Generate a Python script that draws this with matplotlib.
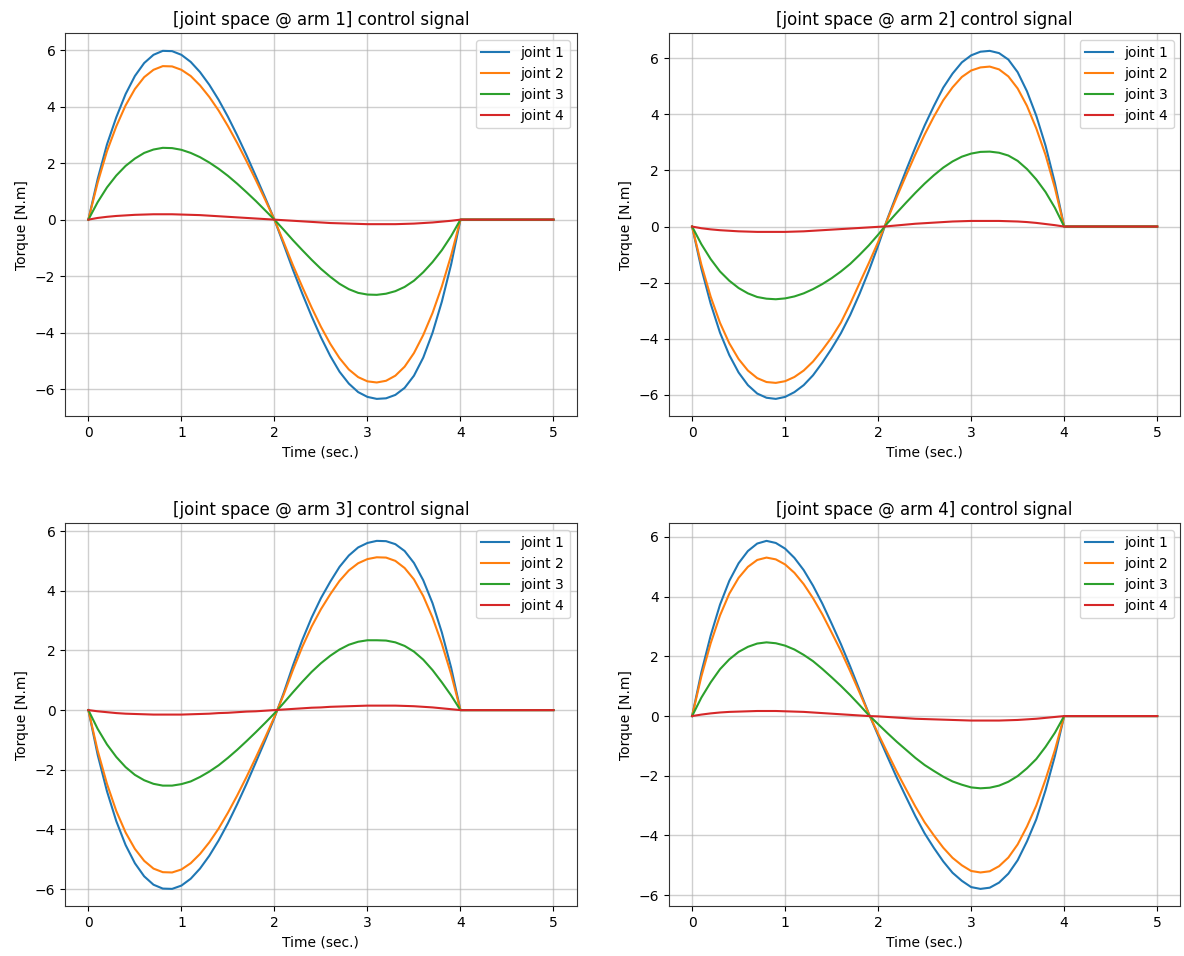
import matplotlib
matplotlib.use("Agg")
import matplotlib.pyplot as plt

# Time samples (sec.)
time = [0.0, 0.1, 0.2, 0.3, 0.4, 0.5, 0.6, 0.7, 0.8, 0.9,
        1.0, 1.1, 1.2, 1.3, 1.4, 1.5, 1.6, 1.7, 1.8, 1.9,
        2.0, 2.1, 2.2, 2.3, 2.4, 2.5, 2.6, 2.7, 2.8, 2.9,
        3.0, 3.1, 3.2, 3.3, 3.4, 3.5, 3.6, 3.7, 3.8, 3.9,
        4.0, 5.0]

joint_names = ["joint 1", "joint 2", "joint 3", "joint 4"]
arm_titles = ["[joint space @ arm 1] control signal",
              "[joint space @ arm 2] control signal",
              "[joint space @ arm 3] control signal",
              "[joint space @ arm 4] control signal"]

# Torque [N.m]
arm1_j1 = [0, 1.44, 2.66, 3.62, 4.44, 5.08, 5.54, 5.83, 5.97, 5.96,
           5.83, 5.58, 5.22, 4.77, 4.24, 3.64, 2.98, 2.28, 1.54, 0.78,
           0, -0.88, -1.78, -2.62, -3.42, -4.16, -4.82, -5.38, -5.8, -6.1,
           -6.27, -6.34, -6.32, -6.2, -5.95, -5.52, -4.88, -4.0, -2.9, -1.58,
           0, 0]
arm1_j2 = [0, 1.31, 2.42, 3.3, 4.04, 4.62, 5.04, 5.3, 5.43, 5.42,
           5.3, 5.08, 4.75, 4.34, 3.86, 3.31, 2.71, 2.07, 1.4, 0.71,
           0, -0.8, -1.62, -2.38, -3.11, -3.79, -4.39, -4.9, -5.3, -5.57,
           -5.72, -5.76, -5.7, -5.52, -5.2, -4.72, -4.08, -3.3, -2.36, -1.26,
           0, 0]
arm1_j3 = [0, 0.62, 1.14, 1.56, 1.9, 2.16, 2.36, 2.48, 2.54, 2.53,
           2.47, 2.36, 2.21, 2.02, 1.8, 1.55, 1.27, 0.97, 0.66, 0.33,
           0, -0.36, -0.73, -1.08, -1.42, -1.74, -2.02, -2.27, -2.46, -2.59,
           -2.65, -2.66, -2.62, -2.53, -2.38, -2.16, -1.86, -1.5, -1.08, -0.58,
           0, 0]
arm1_j4 = [0, 0.06, 0.1, 0.13, 0.15, 0.17, 0.18, 0.19, 0.19, 0.19,
           0.18, 0.17, 0.16, 0.14, 0.12, 0.1, 0.08, 0.06, 0.04, 0.02,
           0, -0.02, -0.04, -0.06, -0.08, -0.1, -0.12, -0.13, -0.14, -0.15,
           -0.16, -0.16, -0.16, -0.16, -0.15, -0.14, -0.12, -0.1, -0.07, -0.04,
           0, 0]

arm2_j1 = [0, -1.5, -2.75, -3.78, -4.58, -5.2, -5.65, -5.95, -6.1, -6.14,
           -6.07, -5.9, -5.65, -5.3, -4.85, -4.35, -3.8, -3.15, -2.4, -1.58,
           -0.68, 0.28, 1.15, 2.0, 2.82, 3.6, 4.3, 4.95, 5.45, 5.85,
           6.1, 6.23, 6.26, 6.18, 5.95, 5.5, 4.82, 3.95, 2.88, 1.56,
           0, 0]
arm2_j2 = [0, -1.36, -2.5, -3.43, -4.16, -4.72, -5.13, -5.4, -5.54, -5.57,
           -5.51, -5.36, -5.13, -4.81, -4.4, -3.95, -3.42, -2.75, -2.02, -1.3,
           -0.55, 0.25, 1.05, 1.82, 2.57, 3.28, 3.92, 4.5, 4.96, 5.33,
           5.56, 5.67, 5.7, 5.6, 5.35, 4.92, 4.3, 3.5, 2.55, 1.38,
           0, 0]
arm2_j3 = [0, -0.63, -1.16, -1.6, -1.93, -2.19, -2.38, -2.51, -2.57, -2.59,
           -2.56, -2.49, -2.38, -2.23, -2.05, -1.84, -1.6, -1.33, -1.01, -0.67,
           -0.29, 0.12, 0.49, 0.85, 1.2, 1.53, 1.83, 2.1, 2.32, 2.49,
           2.6, 2.66, 2.67, 2.63, 2.53, 2.34, 2.05, 1.68, 1.23, 0.67,
           0, 0]
arm2_j4 = [0, -0.06, -0.1, -0.13, -0.15, -0.17, -0.18, -0.19, -0.19, -0.19,
           -0.19, -0.18, -0.17, -0.15, -0.13, -0.11, -0.09, -0.07, -0.05, -0.03,
           -0.01, 0.01, 0.04, 0.07, 0.1, 0.12, 0.14, 0.16, 0.18, 0.19,
           0.2, 0.2, 0.2, 0.2, 0.19, 0.18, 0.16, 0.13, 0.09, 0.05,
           0, 0]

arm3_j1 = [0, -1.5, -2.72, -3.72, -4.52, -5.13, -5.57, -5.85, -5.98, -5.99,
           -5.88, -5.65, -5.31, -4.88, -4.37, -3.79, -3.15, -2.47, -1.75, -1.02,
           -0.26, 0.58, 1.5, 2.35, 3.1, 3.75, 4.3, 4.8, 5.18, 5.45,
           5.6, 5.67, 5.66, 5.56, 5.33, 4.93, 4.35, 3.58, 2.6, 1.42,
           0, 0]
arm3_j2 = [0, -1.36, -2.47, -3.38, -4.1, -4.65, -5.05, -5.31, -5.43, -5.44,
           -5.34, -5.13, -4.82, -4.43, -3.97, -3.44, -2.86, -2.24, -1.59, -0.92,
           -0.23, 0.52, 1.35, 2.12, 2.8, 3.38, 3.88, 4.33, 4.68, 4.92,
           5.06, 5.12, 5.11, 5.0, 4.76, 4.38, 3.82, 3.1, 2.22, 1.2,
           0, 0]
arm3_j3 = [0, -0.63, -1.15, -1.57, -1.91, -2.17, -2.35, -2.47, -2.53, -2.53,
           -2.48, -2.39, -2.24, -2.06, -1.85, -1.6, -1.33, -1.04, -0.74, -0.43,
           -0.11, 0.24, 0.6, 0.95, 1.28, 1.57, 1.82, 2.03, 2.19, 2.29,
           2.34, 2.34, 2.33, 2.27, 2.15, 1.96, 1.69, 1.34, 0.93, 0.49,
           0, 0]
arm3_j4 = [0, -0.04, -0.07, -0.1, -0.12, -0.13, -0.14, -0.15, -0.15, -0.15,
           -0.15, -0.14, -0.13, -0.12, -0.1, -0.09, -0.07, -0.05, -0.04, -0.02,
           0, 0.02, 0.04, 0.06, 0.08, 0.09, 0.11, 0.12, 0.13, 0.14,
           0.15, 0.15, 0.15, 0.15, 0.14, 0.13, 0.11, 0.09, 0.06, 0.03,
           0, 0]

arm4_j1 = [0, 1.47, 2.7, 3.73, 4.53, 5.12, 5.53, 5.78, 5.87, 5.8,
           5.61, 5.3, 4.89, 4.37, 3.77, 3.1, 2.41, 1.66, 0.87, 0.08,
           -0.65, -1.36, -2.06, -2.71, -3.35, -3.93, -4.42, -4.87, -5.25, -5.52,
           -5.73, -5.79, -5.75, -5.58, -5.28, -4.83, -4.2, -3.46, -2.48, -1.34,
           0, 0]
arm4_j2 = [0, 1.33, 2.44, 3.37, 4.1, 4.63, 5.0, 5.23, 5.31, 5.25,
           5.08, 4.8, 4.42, 3.95, 3.41, 2.8, 2.18, 1.5, 0.79, 0.07,
           -0.59, -1.23, -1.86, -2.45, -3.03, -3.56, -4.0, -4.41, -4.75, -5.0,
           -5.19, -5.24, -5.2, -5.03, -4.74, -4.3, -3.7, -3.0, -2.12, -1.14,
           0, 0]
arm4_j3 = [0, 0.62, 1.13, 1.57, 1.9, 2.15, 2.32, 2.43, 2.47, 2.44,
           2.36, 2.23, 2.05, 1.84, 1.58, 1.3, 1.01, 0.7, 0.37, 0.03,
           -0.27, -0.57, -0.86, -1.13, -1.4, -1.64, -1.84, -2.03, -2.19, -2.3,
           -2.39, -2.42, -2.4, -2.33, -2.2, -2.01, -1.75, -1.44, -1.03, -0.56,
           0, 0]
arm4_j4 = [0, 0.05, 0.09, 0.12, 0.14, 0.15, 0.16, 0.17, 0.17, 0.17,
           0.16, 0.15, 0.14, 0.12, 0.1, 0.08, 0.06, 0.04, 0.02, 0.0,
           -0.01, -0.03, -0.05, -0.07, -0.09, -0.1, -0.11, -0.12, -0.13, -0.14,
           -0.15, -0.15, -0.15, -0.15, -0.14, -0.13, -0.11, -0.09, -0.06, -0.03,
           0, 0]

arms = [
    [arm1_j1, arm1_j2, arm1_j3, arm1_j4],
    [arm2_j1, arm2_j2, arm2_j3, arm2_j4],
    [arm3_j1, arm3_j2, arm3_j3, arm3_j4],
    [arm4_j1, arm4_j2, arm4_j3, arm4_j4],
]

fig, axes = plt.subplots(2, 2, figsize=(11.84, 9.56), dpi=100)
fig.subplots_adjust(left=0.055, right=0.997, top=0.965, bottom=0.052,
                    wspace=0.18, hspace=0.28)

for ax, title, joints in zip(axes.flatten(), arm_titles, arms):
    for name, torque in zip(joint_names, joints):
        ax.plot(time, torque, label=name, solid_joinstyle="round")
    ax.set_title(title)
    ax.set_xlabel("Time (sec.)")
    ax.set_ylabel("Torque [N.m]")
    ax.grid(True, color="#b0b0b0", alpha=0.6, linewidth=1.0)
    ax.legend(loc="upper right")
    for spine in ax.spines.values():
        spine.set_edgecolor("#333333")

fig.savefig("out.png", dpi=100)
